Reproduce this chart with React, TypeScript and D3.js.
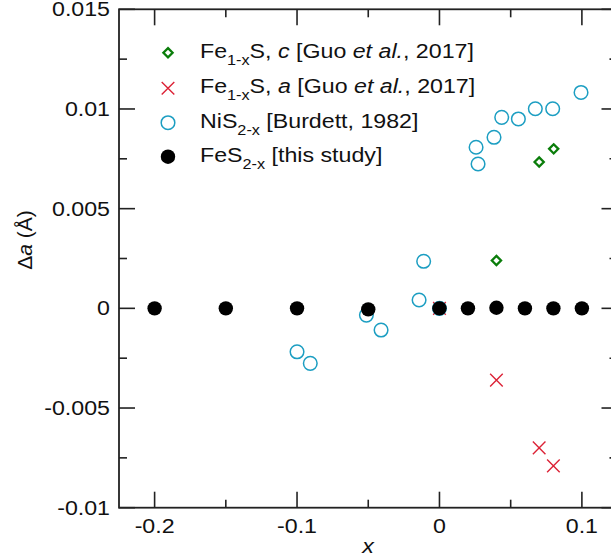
import React from "react";
import * as d3 from "d3";

const feSX = [-0.2, -0.15, -0.1, -0.05, 0, 0.02, 0.04, 0.06, 0.08, 0.1];
const feSY = [0, 0, 0, -0.00005, 0, 0, 0.00003, 0, 0, 0];

const nisX = [-0.1, -0.0907, -0.0513, -0.041, -0.0143, -0.0111, 0, 0.0257, 0.0271, 0.0383, 0.0437, 0.0554, 0.0673, 0.0795, 0.0994];
const nisY = [-0.00218, -0.00276, -0.00034, -0.00109, 0.00042, 0.00236, 0, 0.00808, 0.00724, 0.00858, 0.00958, 0.0095, 0.01001, 0.01001, 0.01083];

const guoCX = [0, 0.04, 0.07, 0.0802];
const guoCY = [0, 0.0024, 0.00734, 0.008];

const guoAX = [0, 0.04, 0.07, 0.08];
const guoAY = [0, -0.0036, -0.007, -0.0079];

const xMajor = [-0.2, -0.1, 0, 0.1];
const xMajorLabels = ["-0.2", "-0.1", "0", "0.1"];
const xMinor = [-0.15, -0.05, 0.05];
const yMajor = [0.015, 0.01, 0.005, 0, -0.005, -0.01];
const yMajorLabels = ["0.015", "0.01", "0.005", "0", "-0.005", "-0.01"];
const yMinor = [0.0125, 0.0075, 0.0025, -0.0025, -0.0075];

const W = 611, H = 560;
const L = 119, R = 617.5, T = 9.3, B = 507.7;
const FONT = "'Liberation Sans', Arial, sans-serif";
const FS = 20;
const SX = 1.16;

const GREEN = "#0a7d0a";
const RED = "#dc2236";
const CYAN = "#1c9ec2";

export default function App() {
  const x = d3.scaleLinear().domain([-0.225, 0.125]).range([L, R]);
  const y = d3.scaleLinear().domain([-0.01, 0.015]).range([B, T]);
  const axisColor = "#222";
  const major = 16, minor = 8;

  const diamond = (cx: number, cy: number, key: string) => {
    const s = 4.6;
    return (
      <path key={key} d={`M${cx},${cy - s}L${cx + s},${cy}L${cx},${cy + s}L${cx - s},${cy}Z`}
        fill="none" stroke={GREEN} strokeWidth={2.3} />
    );
  };
  const cross = (cx: number, cy: number, key: string) => {
    const s = 6.3;
    return (
      <path key={key} d={`M${cx - s},${cy - s}L${cx + s},${cy + s}M${cx - s},${cy + s}L${cx + s},${cy - s}`}
        fill="none" stroke={RED} strokeWidth={1.4} />
    );
  };
  const ring = (cx: number, cy: number, key: string) => (
    <circle key={key} cx={cx} cy={cy} r={6.8} fill="none" stroke={CYAN} strokeWidth={1.5} />
  );
  const dot = (cx: number, cy: number, key: string) => (
    <circle key={key} cx={cx} cy={cy} r={7.2} fill="#000" />
  );

  const txt = (tx: number, ty: number, anchor: string, children: React.ReactNode, key?: string) => (
    <text key={key} transform={`translate(${tx},${ty}) scale(${SX},1)`} textAnchor={anchor}
      fontFamily={FONT} fontSize={FS} fill="#111">{children}</text>
  );

  const legendRows = [52.7, 88.3, 122.7, 156.7];
  const lx = 168, tx0 = 200;
  const SUB = 14, SD = 7;

  return (
    <div style={{ position: "absolute", left: 0, top: 0 }}>
      <svg width={W} height={H} style={{ display: "block", background: "#fff" }}>
        {/* frame */}
        <rect x={L} y={T} width={R - L} height={B - T} fill="none" stroke={axisColor} strokeWidth={1.8} />
        {/* x ticks */}
        {xMajor.map((v, i) => (
          <g key={"xM" + i}>
            <line x1={x(v)} x2={x(v)} y1={B} y2={B - major} stroke={axisColor} strokeWidth={1.6} />
            <line x1={x(v)} x2={x(v)} y1={T} y2={T + major} stroke={axisColor} strokeWidth={1.6} />
          </g>
        ))}
        {xMinor.map((v, i) => (
          <g key={"xm" + i}>
            <line x1={x(v)} x2={x(v)} y1={B} y2={B - minor} stroke={axisColor} strokeWidth={1.6} />
            <line x1={x(v)} x2={x(v)} y1={T} y2={T + minor} stroke={axisColor} strokeWidth={1.6} />
          </g>
        ))}
        {yMajor.map((v, i) => (
          <g key={"yM" + i}>
            <line x1={L} x2={L + major} y1={y(v)} y2={y(v)} stroke={axisColor} strokeWidth={1.6} />
            <line x1={R} x2={R - major} y1={y(v)} y2={y(v)} stroke={axisColor} strokeWidth={1.6} />
          </g>
        ))}
        {yMinor.map((v, i) => (
          <g key={"ym" + i}>
            <line x1={L} x2={L + minor} y1={y(v)} y2={y(v)} stroke={axisColor} strokeWidth={1.6} />
            <line x1={R} x2={R - minor} y1={y(v)} y2={y(v)} stroke={axisColor} strokeWidth={1.6} />
          </g>
        ))}
        {/* tick labels */}
        {xMajor.map((v, i) => txt(x(v), 533, "middle", xMajorLabels[i], "xl" + i))}
        {yMajor.map((v, i) => txt(110, y(v) + 7, "end", yMajorLabels[i], "yl" + i))}
        {/* axis titles */}
        {txt(368, 553, "middle", <tspan fontStyle="italic">x</tspan>)}
        <text transform={`translate(32,240) rotate(-90) scale(1.05,1)`} textAnchor="middle"
          fontFamily={FONT} fontSize={FS} fill="#111">
          Δ<tspan fontStyle="italic">a</tspan> (Å)
        </text>

        {/* data */}
        {guoCX.map((v, i) => diamond(x(v), y(guoCY[i]), "gc" + i))}
        {guoAX.map((v, i) => cross(x(v), y(guoAY[i]), "ga" + i))}
        {nisX.map((v, i) => ring(x(v), y(nisY[i]), "ni" + i))}
        {feSX.map((v, i) => dot(x(v), y(feSY[i]), "fe" + i))}

        {/* legend */}
        {diamond(lx, legendRows[0], "ld")}
        {cross(lx, legendRows[1], "lc")}
        {ring(lx, legendRows[2], "lr")}
        {dot(lx, legendRows[3], "lo")}
        {txt(tx0, legendRows[0] + 5, "start",
          <>Fe<tspan fontSize={SUB} dy={SD}>1-x</tspan><tspan dy={-SD}>S, </tspan><tspan fontStyle="italic">c</tspan> [Guo <tspan fontStyle="italic">et al.</tspan>, 2017]</>, "t0")}
        {txt(tx0, legendRows[1] + 5, "start",
          <>Fe<tspan fontSize={SUB} dy={SD}>1-x</tspan><tspan dy={-SD}>S, </tspan><tspan fontStyle="italic">a</tspan> [Guo <tspan fontStyle="italic">et al.</tspan>, 2017]</>, "t1")}
        {txt(tx0, legendRows[2] + 5, "start",
          <>NiS<tspan fontSize={SUB} dy={SD}>2-x</tspan><tspan dy={-SD}> [Burdett, 1982]</tspan></>, "t2")}
        {txt(tx0, legendRows[3] + 5, "start",
          <>FeS<tspan fontSize={SUB} dy={SD}>2-x</tspan><tspan dy={-SD}> [this study]</tspan></>, "t3")}
      </svg>
    </div>
  );
}
